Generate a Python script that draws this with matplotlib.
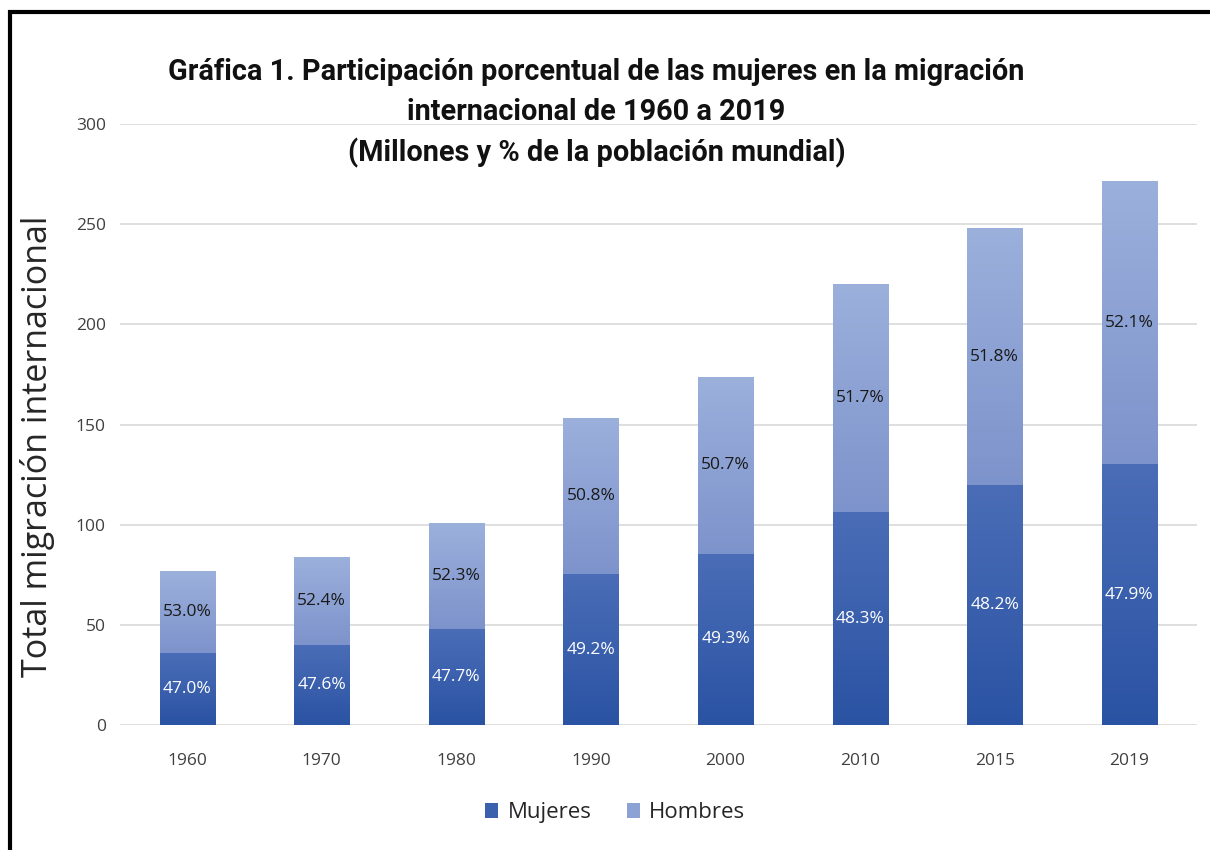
import numpy as np
import matplotlib
matplotlib.use("Agg")
import matplotlib.pyplot as plt
from matplotlib.colors import LinearSegmentedColormap
from matplotlib.patches import Rectangle

# data (millions of migrants)
years = ["1960", "1970", "1980", "1990", "2000", "2010", "2015", "2019"]
mujeres = [36.2, 40.0, 47.9, 75.4, 85.6, 106.3, 119.6, 130.1]
hombres = [40.6, 44.0, 52.8, 77.9, 88.1, 113.9, 128.5, 141.5]
pct_mujeres = ["47.0%", "47.6%", "47.7%", "49.2%", "49.3%", "48.3%", "48.2%", "47.9%"]
pct_hombres = ["53.0%", "52.4%", "52.3%", "50.8%", "50.7%", "51.7%", "51.8%", "52.1%"]

plt.rcParams['font.family'] = ['Open Sans', 'DejaVu Sans']

fig = plt.figure(figsize=(12.1, 8.5), dpi=100)
ax = fig.add_axes([0.099, 0.147, 0.890, 0.707])

cmap_m = LinearSegmentedColormap.from_list("m", ["#2a53a3", "#4b6db7"])
cmap_h = LinearSegmentedColormap.from_list("h", ["#7d93cb", "#9cb0dc"])
grad = np.linspace(0, 1, 256).reshape(-1, 1)

x = np.arange(len(years))
width = 0.41

def gradient_bars(bars, cmap):
    for b in bars:
        x0, y0 = b.get_x(), b.get_y()
        w, h = b.get_width(), b.get_height()
        im = ax.imshow(grad, cmap=cmap, origin="lower", aspect="auto",
                       extent=[x0, x0 + w, y0, y0 + h], zorder=2)
        im.set_clip_path(b)

bars_m = ax.bar(x, mujeres, width, color="#3a60ae", label="Mujeres", zorder=2)
bars_h = ax.bar(x, hombres, width, bottom=mujeres, color="#8ca1d4", label="Hombres", zorder=2)
gradient_bars(bars_m, cmap_m)
gradient_bars(bars_h, cmap_h)

for i in range(len(years)):
    ax.text(x[i], mujeres[i] / 2, pct_mujeres[i], ha="center", va="center",
            color="white", fontsize=12.5, zorder=4)
    ax.text(x[i], mujeres[i] + hombres[i] / 2, pct_hombres[i], ha="center", va="center",
            color="#1a1a1a", fontsize=12.5, zorder=4)

ax.set_xlim(-0.5, len(years) - 0.5)
ax.set_ylim(0, 300)
ax.set_yticks(range(0, 301, 50))
ax.set_xticks(x)
ax.set_xticklabels(years)
ax.yaxis.grid(True, color="#d9d9d9", linewidth=1.2, zorder=0)
ax.set_axisbelow(True)
for s in ax.spines.values():
    s.set_visible(False)
ax.tick_params(length=0, labelsize=12.5, colors="#404040", pad=10)
ax.tick_params(axis="x", pad=20)
ax.set_ylabel("Total migración internacional", fontsize=24.5, color="#262626")
ax.yaxis.set_label_coords(-0.060, 0.463)

fig.text(0.493, 0.867, "Gráfica 1. Participación porcentual de las mujeres en la migración\n"
         "internacional de 1960 a 2019\n(Millones y % de la población mundial)",
         ha="center", va="center", fontsize=20.8, fontweight="bold",
         family=['Roboto', 'DejaVu Sans'], linespacing=1.53, color="#111111")

leg = ax.legend(loc="center", bbox_to_anchor=(0.46, -0.146), ncol=2, frameon=False,
                fontsize=16, handlelength=0.6, handleheight=0.6, columnspacing=1.6,
                handletextpad=0.4)
for t in leg.get_texts():
    t.set_color("#262626")

fig.patches.append(Rectangle((10 / 1210, -0.05), 1.1, 0.05 + 838 / 850,
                             transform=fig.transFigure, fill=False,
                             edgecolor="black", linewidth=3))

fig.savefig("out.png", dpi=100)
